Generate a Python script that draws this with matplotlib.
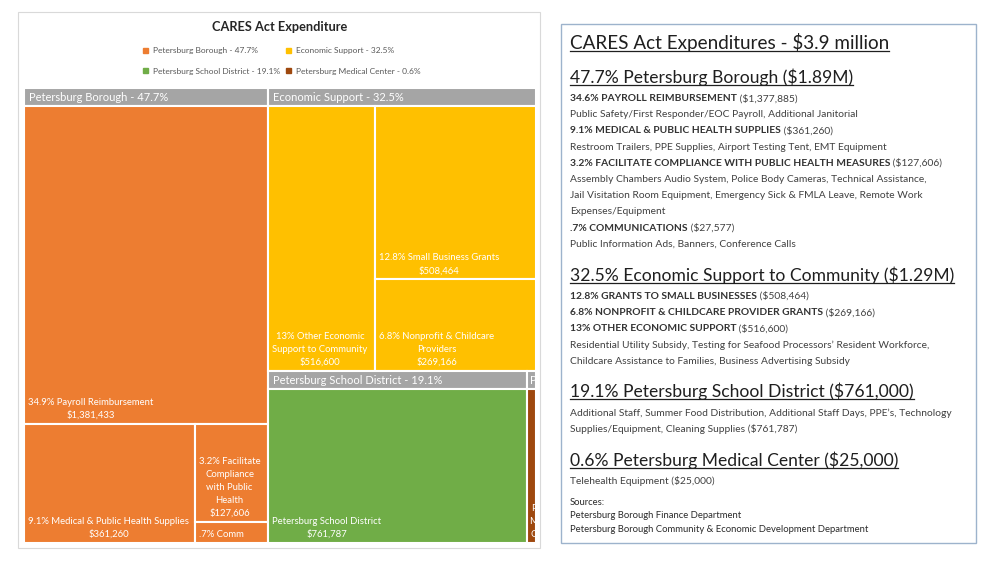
#CARES Act expenditure treemap plus the text summary panel

import matplotlib.pyplot as plt
from matplotlib.patches import Rectangle, Patch

plt.rcParams['font.family'] = ['Lato', 'DejaVu Sans']

# treemap data
group_names = ["Petersburg Borough", "Economic Support",
               "Petersburg School District", "Petersburg Medical Center"]
group_pcts = ["47.7%", "32.5%", "19.1%", "0.6%"]
group_colors = ["#ED7D31", "#FFC000", "#70AD47", "#9E480E"]
# the medical center header is too narrow for more than its first letter
header_labels = ["Petersburg Borough - 47.7%", "Economic Support - 32.5%",
                 "Petersburg School District - 19.1%", "P"]
leaf_values = [[1381433, 361260, 127606, 27577],
               [516600, 508464, 269166],
               [761787],
               [25000]]
leaf_labels = [["34.9% Payroll Reimbursement\n$1,381,433",
                "9.1% Medical & Public Health Supplies\n$361,260",
                "3.2% Facilitate\nCompliance\nwith Public\nHealth\n$127,606",
                ".7% Comm"],
               ["13% Other Economic\nSupport to Community\n$516,600",
                "12.8% Small Business Grants\n$508,464",
                "6.8% Nonprofit & Childcare\nProviders\n$269,166"],
               ["Petersburg School District\n$761,787"],
               ["P\nM\nC"]]

# text panel
panel_title = "CARES Act Expenditures - $3.9 million"
sections = [
    ("47.7% Petersburg Borough ($1.89M)", [
        ("34.6% PAYROLL REIMBURSEMENT", " ($1,377,885)"),
        ("", "Public Safety/First Responder/EOC Payroll, Additional Janitorial"),
        ("9.1% MEDICAL & PUBLIC HEALTH SUPPLIES", " ($361,260)"),
        ("", "Restroom Trailers, PPE Supplies, Airport Testing Tent, EMT Equipment"),
        ("3.2% FACILITATE COMPLIANCE WITH PUBLIC HEALTH MEASURES", " ($127,606)"),
        ("", "Assembly Chambers Audio System, Police Body Cameras, Technical Assistance,"),
        ("", "Jail Visitation Room Equipment, Emergency Sick & FMLA Leave, Remote Work"),
        ("", "Expenses/Equipment"),
        (".7% COMMUNICATIONS", " ($27,577)"),
        ("", "Public Information Ads, Banners, Conference Calls")]),
    ("32.5% Economic Support to Community ($1.29M)", [
        ("12.8% GRANTS TO SMALL BUSINESSES", " ($508,464)"),
        ("6.8% NONPROFIT & CHILDCARE PROVIDER GRANTS", " ($269,166)"),
        ("13% OTHER ECONOMIC SUPPORT", " ($516,600)"),
        ("", "Residential Utility Subsidy, Testing for Seafood Processors\u2019 Resident Workforce,"),
        ("", "Childcare Assistance to Families, Business Advertising Subsidy")]),
    ("19.1% Petersburg School District ($761,000)", [
        ("", "Additional Staff, Summer Food Distribution, Additional Staff Days, PPE\u2019s, Technology"),
        ("", "Supplies/Equipment, Cleaning Supplies ($761,787)")]),
    ("0.6% Petersburg Medical Center ($25,000)", [
        ("", "Telehealth Equipment ($25,000)")]),
]
sources = ["Sources:", "Petersburg Borough Finance Department",
           "Petersburg Borough Community & Economic Development Department"]


def slice_layout(vals, x, y, w, h):
    # each item cuts a strip off the longer side of what is left
    rects = []
    total = float(sum(vals))
    for v in vals:
        f = v / total
        if w >= h:
            rects.append((x, y, w * f, h))
            x += w * f
            w -= w * f
        else:
            rects.append((x, y, w, h * f))
            y += h * f
            h -= h * f
        total -= v
    return rects


fig = plt.figure(figsize=(10, 5.63), dpi=100)

page = fig.add_axes([0, 0, 1, 1])
page.set_xlim(0, 1000)
page.set_ylim(563, 0)
page.axis("off")

# chart frame, title, legend
page.add_patch(Rectangle((18, 12), 522, 536, fill=False, ec="#D9D9D9", lw=0.8))
page.text(280, 27, "CARES Act Expenditure", ha="center", va="center",
          fontsize=9.2, fontweight="bold", color="#262626")
handles = [Patch(color=c) for c in group_colors]
labels = [n + " - " + p for n, p in zip(group_names, group_pcts)]
order = [0, 2, 1, 3]
fig.legend([handles[i] for i in order], [labels[i] for i in order], ncol=2,
           loc="center", bbox_to_anchor=(282 / 1000, 1 - 61 / 563), frameon=False,
           fontsize=6.0, labelcolor="#595959", handlelength=0.6, handleheight=0.6,
           handletextpad=0.6, columnspacing=0.7, labelspacing=1.6)

# treemap
W, H, HEAD = 512, 455, 18
tm = fig.add_axes([24 / 1000, 1 - 543 / 563, W / 1000, H / 563])
tm.set_xlim(0, W)
tm.set_ylim(H, 0)
tm.axis("off")

group_rects = slice_layout([sum(v) for v in leaf_values], 0, 0, W, H)
for gi, (gx, gy, gw, gh) in enumerate(group_rects):
    head = Rectangle((gx, gy), gw, HEAD, fc="#A5A5A5", ec="white", lw=1.5)
    tm.add_patch(head)
    t = tm.text(gx + min(5, gw / 3), gy + HEAD / 2 + 0.5, header_labels[gi],
                ha="left", va="center", color="white", fontsize=8)
    t.set_clip_path(head)
    rects = slice_layout(leaf_values[gi], gx, gy + HEAD, gw, gh - HEAD)
    for (x, y, w, h), lab in zip(rects, leaf_labels[gi]):
        cell = Rectangle((x, y), w, h, fc=group_colors[gi], ec="white", lw=1.5)
        tm.add_patch(cell)
        lt = tm.text(x + min(4, w / 5), y + h - 4, lab, ha="left", va="bottom",
                     multialignment="center", color="white", fontsize=6.8,
                     linespacing=1.55)
        lt.set_clip_path(cell)

# text panel
page.add_patch(Rectangle((561, 24), 415, 519, fill=False, ec="#9DB3CC", lw=1))
X0 = 570
BODY = 7.4
heads = []
y = 42
heads.append(page.text(X0, y, panel_title, va="center", fontsize=13.6, color="#1F1F1F"))
y += 35
for si, (head_text, lines) in enumerate(sections):
    if si > 0:
        y += 30.5
    heads.append(page.text(X0, y, head_text, va="center", fontsize=12.6, color="#1F1F1F"))
    y += 21.5
    for bi, (bold, reg) in enumerate(lines):
        if bi > 0:
            y += 16.2
        if bold:
            tb = page.text(X0, y, bold, va="center", fontsize=BODY,
                           fontweight="bold", color="#333333")
            page.annotate(reg, xy=(1, 0.5), xycoords=tb, va="center", ha="left",
                          fontsize=BODY, color="#404040")
        else:
            page.text(X0, y, reg, va="center", fontsize=BODY, color="#404040")
y += 21
for si, s in enumerate(sources):
    page.text(X0, y + si * 13.5, s, va="center", fontsize=6.85, color="#2B2B2B")

# underline the headings
fig.canvas.draw()
inv = page.transData.inverted()
for t in heads:
    bb = t.get_window_extent()
    (x0, yb), (x1, _) = inv.transform([[bb.x0, bb.y0], [bb.x1, bb.y1]])
    page.plot([x0, x1], [yb - 1, yb - 1], color="#1F1F1F", lw=0.9)

fig.savefig("out.png", dpi=100)
